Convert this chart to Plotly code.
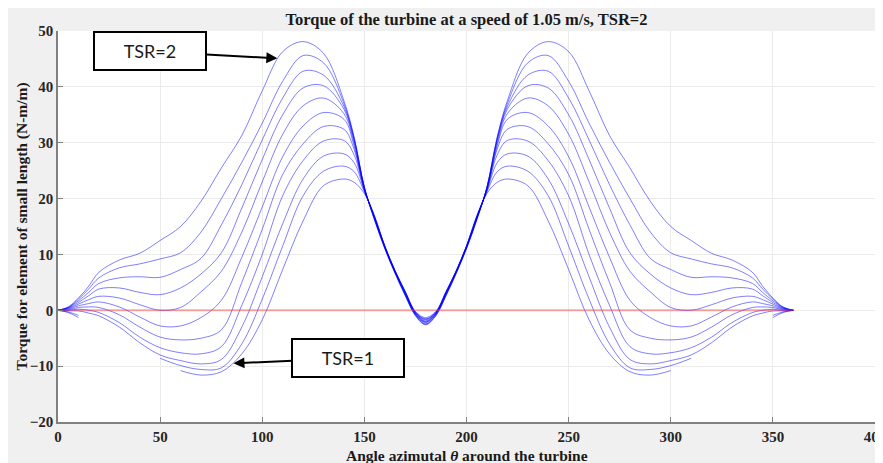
import plotly.graph_objects as go

# azimuth angles (deg)
angles = [0, 5, 10, 15, 20, 30, 40, 50, 60, 70, 80, 90, 100, 110, 120, 130, 140, 145, 150, 155,
          160, 165, 170, 175, 180, 185, 190, 195, 200, 205, 210, 215, 220, 230, 240, 250, 260,
          270, 280, 290, 300, 310, 320, 330, 340, 345, 350, 355, 360]

# torque per unit length (N-m/m), one list per TSR
tsr_2_0 = [0, 0.6, 2.2, 4.3, 6.8, 9.0, 10.2, 12.5, 15.0, 19.5, 25.5, 31.3, 39.3, 46.3, 48.1, 46.0, 37.5, 31.0, 22.0, 16.1,
           11.0, 6.6, 2.6, -1.0, -2.6, -1.0, 2.6, 6.6, 11.0, 16.1, 22.0, 31.0, 37.5, 46.0, 48.1, 46.3, 39.3,
           31.3, 25.5, 19.5, 15.0, 12.5, 10.2, 9.0, 6.8, 4.3, 2.2, 0.6, 0]
tsr_1_9 = [0, 0.5, 2.0, 3.8, 5.8, 7.6, 8.3, 9.2, 10.3, 14.0, 20.0, 26.5, 33.5, 41.0, 45.6, 44.3, 37.0, 30.8, 22.0, 16.2,
           11.1, 6.7, 2.7, -0.9, -2.5, -0.9, 2.7, 6.7, 11.1, 16.2, 22.0, 30.8, 37.0, 44.3, 45.6, 41.0, 33.5,
           26.5, 20.0, 14.0, 10.3, 9.2, 8.3, 7.6, 5.8, 3.8, 2.0, 0.5, 0]
tsr_1_8 = [0, 0.5, 1.7, 3.2, 4.8, 5.8, 6.0, 5.9, 7.3, 9.3, 15.3, 22.5, 30.5, 38.0, 42.8, 42.1, 36.5, 30.6, 22.0, 16.3,
           11.2, 6.8, 2.8, -0.8, -2.4, -0.8, 2.8, 6.8, 11.2, 16.3, 22.0, 30.6, 36.5, 42.1, 42.8, 38.0, 30.5,
           22.5, 15.3, 9.3, 7.3, 5.9, 6.0, 5.8, 4.8, 3.2, 1.7, 0.5, 0]
tsr_1_7 = [0, 0.4, 1.4, 2.6, 3.8, 4.0, 3.2, 2.8, 4.0, 6.5, 10.3, 18.3, 27.0, 35.0, 39.8, 40.2, 36.0, 30.3, 21.9, 16.4,
           11.2, 6.8, 2.9, -0.7, -2.2, -0.7, 2.9, 6.8, 11.2, 16.4, 21.9, 30.3, 36.0, 40.2, 39.8, 35.0, 27.0,
           18.3, 10.3, 6.5, 4.0, 2.8, 3.2, 4.0, 3.8, 2.6, 1.4, 0.4, 0]
tsr_1_6 = [0, 0.3, 1.1, 1.9, 2.5, 2.2, 1.0, 0.0, 0.5, 3.3, 7.0, 14.0, 23.0, 31.5, 36.6, 38.0, 35.2, 29.9, 21.8, 16.5,
           11.3, 6.9, 3.0, -0.6, -2.1, -0.6, 3.0, 6.9, 11.3, 16.5, 21.8, 29.9, 35.2, 38.0, 36.6, 31.5, 23.0,
           14.0, 7.0, 3.3, 0.5, 0.0, 1.0, 2.2, 2.5, 1.9, 1.1, 0.3, 0]
tsr_1_5 = [0, 0.2, 0.8, 1.2, 1.5, 0.6, -1.2, -2.8, -2.8, -1.3, 1.8, 9.5, 18.5, 27.5, 33.0, 35.4, 34.2, 29.4, 21.7, 16.5,
           11.3, 6.9, 3.0, -0.6, -2.0, -0.6, 3.0, 6.9, 11.3, 16.5, 21.7, 29.4, 34.2, 35.4, 33.0, 27.5, 18.5,
           9.5, 1.8, -1.3, -2.8, -2.8, -1.2, 0.6, 1.5, 1.2, 0.8, 0.2, 0]
tsr_1_4 = [0, 0.1, 0.5, 0.6, 0.5, -0.8, -3.0, -4.8, -5.3, -5.0, -3.5, 5.0, 14.5, 24.3, 29.8, 32.9, 32.4, 28.8, 21.6, 16.6,
           11.4, 7.0, 3.1, -0.5, -1.9, -0.5, 3.1, 7.0, 11.4, 16.6, 21.6, 28.8, 32.4, 32.9, 29.8, 24.3, 14.5,
           5.0, -3.5, -5.0, -5.3, -4.8, -3.0, -0.8, 0.5, 0.6, 0.5, 0.1, 0]
tsr_1_3 = [0, 0.0, 0.2, 0.0, -0.4, -2.2, -4.8, -6.7, -7.6, -7.8, -6.5, 0.9, 10.0, 20.5, 26.8, 30.3, 30.4, 27.8, 21.5, 16.6,
           11.4, 7.0, 3.2, -0.4, -1.7, -0.4, 3.2, 7.0, 11.4, 16.6, 21.5, 27.8, 30.4, 30.3, 26.8, 20.5, 10.0,
           0.9, -6.5, -7.8, -7.6, -6.7, -4.8, -2.2, -0.4, 0.0, 0.2, 0.0, 0]
tsr_1_2 = [0, -0.1, -0.1, -0.5, -1.0, -3.0, -5.8, -8.0, -9.0, -9.6, -8.8, -3.0, 6.0, 15.5, 23.5, 27.6, 28.0, 26.4, 21.4, 16.7,
           11.5, 7.1, 3.3, -0.4, -1.6, -0.4, 3.3, 7.1, 11.5, 16.7, 21.4, 26.4, 28.0, 27.6, 23.5, 15.5, 6.0,
           -3.0, -8.8, -9.6, -9.0, -8.0, -5.8, -3.0, -1.0, -0.5, -0.1, -0.1, 0]
tsr_1_1 = [0, -0.3, -0.9, None, None, None, None, -8.6, -9.9, -10.6, -10.3, -6.0, 2.0, 11.5, 20.5, 24.9, 25.8, 24.8, 21.2, 16.8,
           11.5, 7.1, 3.3, -0.3, -1.5, -0.3, 3.3, 7.1, 11.5, 16.8, 21.2, 24.8, 25.8, 24.9, 20.5, 11.5, 2.0,
           -6.0, -10.3, -10.6, -9.9, -8.6, None, None, None, None, -0.9, -0.3, 0]
tsr_1_0 = [0, -0.4, -1.3, None, None, None, None, None, -10.8, -11.6, -11.0, -7.8, -1.7, 7.3, 16.0, 22.3, 23.5, 22.9, 20.9, 16.9,
           11.5, 7.1, 3.4, -0.2, -1.3, -0.2, 3.4, 7.1, 11.5, 16.9, 20.9, 22.9, 23.5, 22.3, 16.0, 7.3, -1.7,
           -7.8, -11.0, -11.6, -10.8, None, None, None, None, None, -1.3, -0.4, 0]

series = [tsr_2_0, tsr_1_9, tsr_1_8, tsr_1_7, tsr_1_6, tsr_1_5, tsr_1_4, tsr_1_3, tsr_1_2, tsr_1_1, tsr_1_0]
zero_x = [0, 360]
zero_y = [0, 0]

# page body adds an 8px margin, so the figure is 8px smaller than the window on each side
W, H = 875, 455
L, R, T, B = 50, 8, 23, 41

fig = go.Figure()
for ys in series:
    fig.add_trace(go.Scatter(x=angles, y=ys, mode='lines',
                             line=dict(color='rgba(0,0,255,0.5)', width=1, shape='spline', smoothing=1.0),
                             connectgaps=False, hoverinfo='skip'))
fig.add_trace(go.Scatter(x=zero_x, y=zero_y, mode='lines', line=dict(color='rgba(255,60,60,0.45)', width=2)))

tickfont = dict(family='Liberation Serif', size=15, color='#262626', weight='bold')
labfont = dict(family='Liberation Serif', size=15.5, color='#1a1a1a')
fig.update_layout(
    width=W, height=H, showlegend=False,
    margin=dict(l=L, r=R, t=T, b=B),
    paper_bgcolor='#f0f0f0', plot_bgcolor='white',
    title=dict(text='<b>Torque of the turbine at a speed of 1.05 m/s, TSR=2</b>', x=(L + (W - R - L) / 2) / W,
               xanchor='center', y=1 - 11 / H, yanchor='middle', yref='container',
               font=dict(family='Liberation Serif', size=16.5, color='#1a1a1a')),
    xaxis=dict(range=[0, 400], dtick=50, ticks='inside', ticklen=5, tickcolor='#808080', showline=True,
               linecolor='#808080', linewidth=1.5, gridcolor='#ebebeb', zeroline=False, tickfont=tickfont,
               automargin=False, ticklabeloverflow='allow'),
    yaxis=dict(range=[-20, 50], dtick=10, ticks='inside', ticklen=5, tickcolor='#808080', showline=True,
               linecolor='#808080', linewidth=1.5, gridcolor='#ebebeb', zeroline=False, tickfont=tickfont,
               automargin=False),
)

pw, ph = W - L - R, H - T - B
# axis titles
fig.add_annotation(text='<b>Angle azimutal <i>θ</i> around the turbine</b>', xref='paper', yref='paper',
                   x=0.5, y=-(447 - (H - B)) / ph, yanchor='middle', showarrow=False, font=labfont)
fig.add_annotation(text='<b>Torque for element of small length (N-m/m)</b>', xref='paper', yref='paper',
                   x=(13 - L) / pw, y=0.5, textangle=-90, xanchor='center', showarrow=False, font=labfont)

boxfont = dict(family='Lato', size=18, color='#1a1a1a')
fig.add_annotation(x=107.4, y=45.1, xref='x', yref='y', text='TSR=2', ax=-127, ay=-7, showarrow=True,
                   arrowhead=2, arrowsize=1.1, arrowwidth=2, arrowcolor='black', font=boxfont,
                   bgcolor='white', bordercolor='black', borderwidth=2, borderpad=1, width=108, height=34)
fig.add_annotation(x=85.9, y=-9.5, xref='x', yref='y', text='TSR=1', ax=115, ay=-5, showarrow=True,
                   arrowhead=2, arrowsize=1.1, arrowwidth=2, arrowcolor='black', font=boxfont,
                   bgcolor='white', bordercolor='black', borderwidth=2, borderpad=1, width=108, height=34)

fig.write_html("out.html")
